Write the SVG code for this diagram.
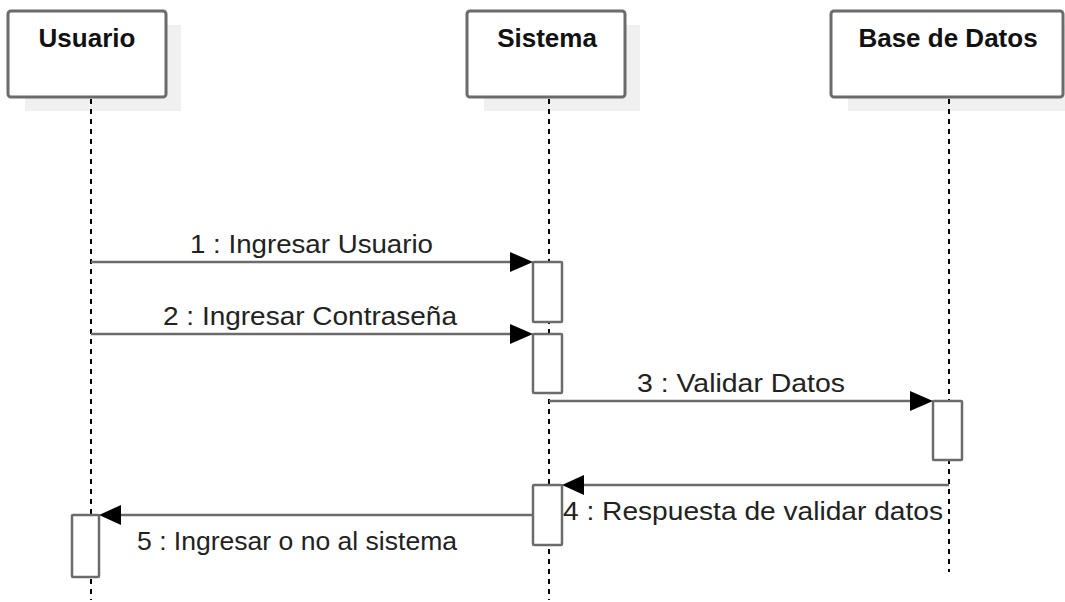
<svg xmlns="http://www.w3.org/2000/svg" width="1065" height="602" viewBox="0 0 1065 602">
<style>
.shadow{fill:#f0f0f0;stroke:none}
.head{fill:#fff;stroke:#6b6b6b;stroke-width:3}
.title{font-family:"Liberation Sans",Arial,sans-serif;font-weight:bold;font-size:26px;fill:#111;text-anchor:middle}
.life{stroke:#000;stroke-width:2;stroke-dasharray:5,5;fill:none}
.act{fill:#fff;stroke:#6b6b6b;stroke-width:2.5}
.msg{stroke:#6b6b6b;stroke-width:2.5;fill:none}
.lbl{font-family:"Liberation Sans",Arial,sans-serif;font-size:26px;fill:#222}
.ah{fill:#000}
</style>
<rect width="1065" height="602" fill="#fff"/>
<g id="usuario">
<rect class="shadow" x="25" y="25" width="156" height="86"/>
<rect class="head" x="8" y="11" width="158" height="86" rx="3"/>
<text class="title" x="87" y="47">Usuario</text>
</g>
<g id="sistema">
<rect class="shadow" x="484" y="25" width="156" height="86"/>
<rect class="head" x="467" y="11" width="158" height="86" rx="3"/>
<text class="title" x="547" y="47">Sistema</text>
</g>
<g id="basedatos">
<rect class="shadow" x="848" y="25" width="217" height="86"/>
<rect class="head" x="831" y="11" width="232" height="86" rx="3"/>
<text class="title" x="948" y="47">Base de Datos</text>
</g>
<g id="lifelines">
<line class="life" x1="91" y1="99" x2="91" y2="600"/>
<line class="life" x1="549" y1="99" x2="549" y2="600"/>
<line class="life" x1="949" y1="99" x2="949" y2="572"/>
</g>
<g id="activations">
<rect class="act" x="533" y="262" width="29" height="60" rx="1"/>
<rect class="act" x="533" y="334" width="29" height="59" rx="1"/>
<rect class="act" x="933" y="401" width="29" height="59" rx="1"/>
<rect class="act" x="533" y="485" width="29" height="60" rx="1"/>
<rect class="act" x="72" y="515" width="27" height="62" rx="1"/>
</g>
<g id="connectors">
<line class="msg" x1="91" y1="262" x2="512" y2="262"/>
<polygon class="ah" points="510,252 533,262 510,272"/>
<text class="lbl" x="190" y="253" textLength="243" lengthAdjust="spacingAndGlyphs">1 : Ingresar Usuario</text>
<line class="msg" x1="91" y1="334" x2="512" y2="334"/>
<polygon class="ah" points="510,324 533,334 510,344"/>
<text class="lbl" x="163" y="325" textLength="294" lengthAdjust="spacingAndGlyphs">2 : Ingresar Contraseña</text>
<line class="msg" x1="549" y1="401" x2="912" y2="401"/>
<polygon class="ah" points="910,391 933,401 910,411"/>
<text class="lbl" x="637" y="392" textLength="208" lengthAdjust="spacingAndGlyphs">3 : Validar Datos</text>
<line class="msg" x1="949" y1="485" x2="582" y2="485"/>
<polygon class="ah" points="584,475 562,485 584,495"/>
<text class="lbl" x="563" y="520" textLength="380" lengthAdjust="spacingAndGlyphs">4 : Respuesta de validar datos</text>
<line class="msg" x1="533" y1="515" x2="118" y2="515"/>
<polygon class="ah" points="121,505 99,515 121,525"/>
<text class="lbl" x="137" y="550" textLength="320" lengthAdjust="spacingAndGlyphs">5 : Ingresar o no al sistema</text>
</g>
</svg>
